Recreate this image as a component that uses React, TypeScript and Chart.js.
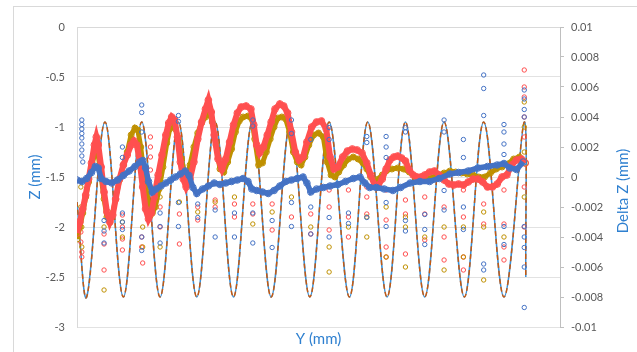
import React, { useEffect, useRef } from "react";
import { Chart, registerables } from "chart.js";
Chart.register(...registerables);

// Periodic reference profile: extremes
const sineX = [0, 10, 29, 48, 67, 86, 105, 124, 143, 162, 181.5, 201, 221, 241, 261, 282, 301, 321, 340, 360, 380, 401, 421, 442, 463, 464.6];
const sineZ = [-1.75, -2.7, -0.95, -2.7, -0.95, -2.7, -0.95, -2.7, -0.95, -2.7, -0.95, -2.7, -0.95, -2.7, -0.95, -2.7, -0.95, -2.7, -0.95, -2.7, -0.95, -2.7, -0.95, -2.7, -0.95, -2.5];

// Red measured profile (Z, left axis)
const redX = [0, 3, 6, 9, 12, 15, 18, 20, 22, 25, 28, 31, 34, 37, 40, 44, 48, 52, 56, 59, 62, 65, 68, 71, 74, 77, 80, 84, 88, 92, 95, 98, 101, 104, 107, 110, 113, 117, 121, 125, 129, 133, 136, 139, 142, 146, 150, 154, 158, 162, 166, 170, 175, 180, 183, 186, 189, 193, 197, 201, 205, 210, 214, 218, 222, 226, 230, 234, 238, 243, 248, 253, 258, 262, 266, 270, 275, 280, 285, 290, 295, 300, 304, 308, 312, 316, 320, 324, 328, 332, 336, 340, 344, 348, 352, 356, 360, 365, 370, 375, 380, 385, 390, 395, 400, 405, 410, 415, 420, 425, 430, 435, 440, 445, 450, 455, 460, 464];
const redZ = [-2.06, -1.95, -1.82, -1.68, -1.52, -1.36, -1.18, -1.1, -1.18, -1.4, -1.65, -1.85, -1.95, -1.88, -1.72, -1.52, -1.38, -1.28, -1.18, -1.14, -1.18, -1.35, -1.6, -1.82, -1.92, -1.86, -1.7, -1.48, -1.28, -1.08, -0.96, -0.9, -0.93, -1.1, -1.35, -1.52, -1.6, -1.52, -1.35, -1.12, -0.95, -0.82, -0.73, -0.85, -1.08, -1.32, -1.42, -1.32, -1.15, -0.98, -0.86, -0.8, -0.79, -0.82, -0.98, -1.18, -1.26, -1.2, -1.08, -0.95, -0.82, -0.77, -0.79, -0.86, -1.05, -1.25, -1.33, -1.3, -1.15, -1.0, -0.95, -0.94, -1.02, -1.3, -1.42, -1.4, -1.3, -1.24, -1.22, -1.23, -1.26, -1.36, -1.48, -1.58, -1.58, -1.52, -1.42, -1.33, -1.3, -1.29, -1.31, -1.34, -1.43, -1.48, -1.5, -1.5, -1.48, -1.45, -1.44, -1.48, -1.53, -1.57, -1.58, -1.57, -1.58, -1.55, -1.52, -1.52, -1.55, -1.6, -1.6, -1.57, -1.5, -1.48, -1.38, -1.33, -1.32, -1.36];

// Gold measured profile (Z, left axis)
const goldX = [0, 3, 6, 9, 12, 15, 18, 20, 22, 25, 28, 31, 34, 37, 40, 44, 48, 52, 56, 60, 63, 66, 69, 72, 75, 78, 81, 85, 89, 93, 96, 99, 102, 105, 108, 111, 114, 117, 121, 125, 129, 133, 137, 140, 144, 148, 152, 156, 160, 164, 168, 172, 177, 181, 184, 188, 192, 196, 200, 204, 208, 212, 216, 220, 224, 228, 232, 236, 240, 245, 250, 255, 259, 263, 267, 271, 276, 281, 286, 291, 296, 300, 304, 308, 312, 316, 320, 326, 332, 338, 344, 350, 356, 362, 368, 374, 380, 386, 392, 398, 404, 410, 416, 422, 428, 434, 440, 446, 452, 458, 464];
const goldZ = [-2.12, -2.0, -1.86, -1.7, -1.55, -1.4, -1.28, -1.22, -1.28, -1.5, -1.72, -1.9, -1.95, -1.86, -1.72, -1.53, -1.38, -1.25, -1.08, -1.01, -1.03, -1.2, -1.45, -1.65, -1.8, -1.86, -1.8, -1.62, -1.4, -1.16, -1.02, -0.97, -1.02, -1.12, -1.32, -1.45, -1.48, -1.38, -1.2, -1.06, -0.96, -0.9, -0.86, -0.95, -1.18, -1.42, -1.45, -1.35, -1.22, -1.05, -0.94, -0.9, -0.89, -0.92, -1.12, -1.38, -1.36, -1.25, -1.12, -1.0, -0.91, -0.9, -0.92, -1.05, -1.25, -1.35, -1.38, -1.3, -1.18, -1.08, -1.06, -1.1, -1.35, -1.48, -1.5, -1.45, -1.38, -1.32, -1.3, -1.32, -1.36, -1.42, -1.5, -1.54, -1.52, -1.48, -1.44, -1.42, -1.41, -1.42, -1.45, -1.5, -1.53, -1.52, -1.5, -1.48, -1.46, -1.44, -1.45, -1.46, -1.47, -1.48, -1.5, -1.5, -1.46, -1.42, -1.4, -1.37, -1.32, -1.3, -1.36];

// Blue difference profile (Delta Z, right axis)
const blueX = [0, 5, 10, 15, 19, 22, 25, 30, 36, 42, 48, 54, 60, 65, 68, 71, 74, 78, 82, 87, 92, 97, 102, 107, 112, 116, 120, 124, 130, 136, 142, 148, 154, 160, 166, 172, 177, 181, 186, 192, 198, 204, 210, 216, 222, 228, 234, 238, 242, 248, 255, 262, 270, 278, 286, 293, 298, 303, 310, 318, 327, 335, 345, 355, 365, 375, 386, 395, 405, 415, 425, 435, 442, 448, 455, 462];
const blueDZ = [-0.0002, -0.0003, -0.0001, 0.0003, 0.0007, 0.0006, -0.0001, -0.0003, -0.0004, -0.0002, 0.0001, 0.0004, 0.0007, 0.001, 0.0011, 0.0006, -0.0003, -0.001, -0.0008, -0.0006, -0.0004, -0.0002, 0.0, 0.0002, 0.0004, 0.0001, -0.0007, -0.0011, -0.0008, -0.0006, -0.0004, -0.0005, -0.0004, -0.0003, -0.0002, -0.0001, -0.0003, -0.0008, -0.0009, -0.001, -0.0011, -0.0009, -0.0006, -0.0003, -0.0002, -0.0001, 0.0, -0.0004, -0.001, -0.0008, -0.0007, -0.0006, -0.0005, -0.0003, -0.0001, 0.0, -0.0004, -0.0007, -0.0007, -0.0008, -0.0009, -0.0007, -0.0004, -0.0003, -0.0003, -0.0001, 0.0002, 0.0003, 0.0004, 0.0006, 0.0007, 0.0008, 0.0009, 0.0006, 0.0005, 0.001];

// Scattered stray readings
const redStray = [[4, -2.05], [4, -2.15], [5, -2.25], [5, -2.3], [28, -2.07], [28, -2.17], [28, -2.43], [47, -1.88], [47, -2.0], [47, -2.12], [47, -2.23], [67, -2.1], [67, -2.2], [68, -2.36], [76, -1.1], [76, -1.2], [76, -1.3], [76, -1.43], [86, -1.8], [86, -2.0], [106, -1.87], [106, -2.17], [125, -1.8], [125, -1.93], [143, -1.73], [143, -1.8], [163, -1.77], [163, -1.9], [182, -1.77], [182, -1.87], [202, -1.77], [202, -2.03], [222, -1.9], [242, -1.87], [242, -2.07], [261, -1.63], [261, -1.8], [261, -2.03], [281, -1.63], [281, -1.9], [281, -2.1], [300, -1.6], [300, -1.7], [300, -1.87], [320, -1.63], [320, -1.93], [320, -2.2], [320, -2.3], [340, -1.73], [340, -1.87], [340, -2.27], [360, -1.7], [360, -1.87], [360, -2.13], [380, -1.8], [380, -2.1], [380, -2.33], [400, -1.63], [400, -1.9], [400, -2.3], [400, -2.43], [421, -1.77], [421, -1.97], [442, -1.63], [442, -1.97], [442, -2.2], [442, -2.33], [463, -0.43], [463, -0.6], [463, -0.7], [463, -0.9], [463, -1.1], [463, -1.6], [463, -2.0]];
const goldStray = [[4, -1.6], [4, -1.8], [5, -2.0], [5, -2.2], [28, -2.0], [28, -2.63], [47, -1.95], [47, -2.1], [68, -2.0], [68, -2.2], [86, -1.7], [86, -2.2], [106, -1.75], [125, -1.85], [143, -1.75], [163, -1.7], [182, -1.97], [202, -1.85], [222, -1.7], [242, -2.0], [261, -2.2], [261, -2.45], [281, -2.0], [300, -1.9], [300, -2.1], [320, -1.8], [320, -2.3], [340, -1.9], [340, -2.0], [340, -2.4], [360, -2.1], [380, -2.0], [380, -2.43], [400, -2.0], [400, -2.3], [421, -1.85], [421, -2.0], [421, -2.53], [442, -2.1], [463, -0.75], [463, -1.0], [463, -1.25], [463, -1.7]];
const blueStray = [[5, 0.0038], [5, 0.0035], [5, 0.0032], [5, 0.0029], [5, 0.0026], [5, 0.0022], [5, 0.0018], [5, 0.0014], [6, 0.001], [28, -0.0029], [28, -0.0036], [28, -0.0044], [47, 0.002], [47, 0.0013], [47, -0.0024], [47, -0.003], [47, -0.0035], [67, 0.0048], [67, 0.0043], [67, 0.003], [67, -0.004], [67, -0.0049], [86, -0.0024], [86, -0.0033], [86, -0.0044], [105, 0.0041], [105, 0.0037], [105, -0.0017], [105, -0.0033], [125, -0.0018], [125, -0.0027], [143, -0.0022], [143, -0.004], [163, -0.0024], [163, -0.004], [182, 0.0038], [182, 0.0034], [182, -0.0024], [182, -0.0044], [202, -0.0029], [202, -0.0047], [222, 0.0038], [222, 0.0029], [222, -0.0017], [222, -0.0033], [242, 0.0025], [242, -0.002], [242, -0.0038], [261, 0.0033], [261, 0.0025], [261, -0.0027], [261, -0.004], [281, -0.0024], [281, -0.0031], [300, 0.0027], [300, 0.0023], [300, -0.0027], [320, 0.0027], [320, 0.002], [320, 0.0013], [320, -0.0017], [320, -0.0033], [340, 0.0033], [340, 0.003], [340, -0.0029], [340, -0.0036], [360, -0.0025], [360, -0.0035], [360, -0.0045], [380, 0.0038], [380, 0.003], [380, -0.0009], [380, -0.0022], [400, 0.0025], [400, 0.0013], [400, -0.002], [400, -0.0035], [421, 0.0068], [421, 0.0059], [421, 0.0041], [421, -0.0058], [421, -0.0062], [442, 0.0035], [442, 0.003], [442, 0.0022], [442, 0.0015], [442, -0.0033], [442, -0.0045], [463, 0.0058], [463, 0.0052], [463, 0.0045], [463, 0.004], [463, -0.0033], [463, -0.004], [463, -0.0047], [463, -0.006], [463, -0.0087]];

const xTitle = "Y (mm)";
const yTitle = "Z (mm)";
const y2Title = "Delta Z (mm)";

const RED = "#FF4F4F";
const GOLD = "#BF9000";
const BLUE = "#4472C4";
const TITLE_BLUE = "#2F80D0";

const pts = (xs: number[], ys: number[]) => xs.map((x, i) => ({ x, y: ys[i] }));
const pairs = (a: number[][]) => a.map(([x, y]) => ({ x, y }));

export default function App() {
  const ref = useRef<HTMLCanvasElement>(null);
  useEffect(() => {
    if (!ref.current) return;
    Chart.defaults.font.family = "Lato";
    const rightTitle = {
      id: "rightTitle",
      afterDraw(chart: any) {
        const { ctx, chartArea } = chart;
        ctx.save();
        ctx.translate(chartArea.right + 63, (chartArea.top + chartArea.bottom) / 2 + 14);
        ctx.rotate(-Math.PI / 2);
        ctx.font = "15px Lato";
        ctx.fillStyle = TITLE_BLUE;
        ctx.textAlign = "center";
        ctx.textBaseline = "middle";
        ctx.fillText(y2Title, 0, 0);
        ctx.restore();
      },
    };
    const marker = (color: string, r = 2.2) => ({
      pointStyle: "circle",
      pointRadius: r,
      pointBorderWidth: 1,
      pointBorderColor: color,
      pointBackgroundColor: "rgba(0,0,0,0)",
    });
    const chart = new Chart(ref.current, {
      type: "scatter",
      data: {
        datasets: [
          { data: pts(blueX, blueDZ), yAxisID: "y2", showLine: true, borderColor: BLUE, borderWidth: 5.5, tension: 0, order: 1, ...marker(BLUE, 3.3) },
          { data: pairs(blueStray), yAxisID: "y2", order: 2, ...marker(BLUE) },
          { data: pts(goldX, goldZ), yAxisID: "y", showLine: true, borderColor: GOLD, borderWidth: 5, tension: 0, order: 4, ...marker(GOLD, 3) },
          { data: pts(redX, redZ), yAxisID: "y", showLine: true, borderColor: RED, borderWidth: 6, tension: 0, order: 3, ...marker(RED, 3.4) },
          { data: pairs(goldStray), yAxisID: "y", order: 5, ...marker(GOLD) },
          { data: pairs(redStray), yAxisID: "y", order: 6, ...marker(RED) },
          { data: pts(sineX, sineZ), yAxisID: "y", showLine: true, borderColor: "#C55A11", borderWidth: 1.5, borderDash: [5, 3], tension: 0.36, pointRadius: 0, order: 7 },
          { data: pts(sineX, sineZ), yAxisID: "y", showLine: true, borderColor: "#3A8FD6", borderWidth: 1.5, tension: 0.36, pointRadius: 0, order: 8 },
        ],
      },
      options: {
        responsive: false,
        animation: false,
        devicePixelRatio: 1,
        layout: { padding: 0 },
        plugins: { legend: { display: false }, tooltip: { enabled: false } },
        scales: {
          x: {
            type: "linear",
            position: "top",
            min: 0,
            max: 500,
            ticks: { stepSize: 50, padding: -20, color: "#595959", font: { size: 11 }, maxRotation: 0, autoSkip: false },
            grid: { display: false, drawTicks: false, tickLength: 0 },
            border: { display: true, color: "#D9D9D9" },
            afterFit: (s: any) => { s.height = 27; },
          },
          x2: {
            type: "linear",
            position: "bottom",
            min: 0,
            max: 500,
            ticks: { display: false },
            grid: { display: false, drawTicks: false },
            border: { display: false },
            title: { display: true, text: xTitle, color: TITLE_BLUE, font: { size: 15 }, padding: { top: 0, bottom: 4 } },
            afterFit: (s: any) => { s.height = 25; },
          },
          y: {
            type: "linear",
            position: "left",
            min: -3,
            max: 0,
            ticks: { stepSize: 0.5, padding: 12, color: "#595959", font: { size: 11 }, callback: (v: any) => String(+Number(v).toFixed(1)) },
            grid: { color: "#E2E2E2", drawTicks: false },
            border: { display: true, color: "#D9D9D9" },
            title: { display: true, text: yTitle, color: TITLE_BLUE, font: { size: 15 }, padding: { top: 26, bottom: 0 } },
            afterFit: (s: any) => { s.width = 77; },
          },
          y2: {
            type: "linear",
            position: "right",
            min: -0.01,
            max: 0.01,
            ticks: { stepSize: 0.002, padding: 7, color: "#595959", font: { size: 11 }, callback: (v: any) => String(+Number(v).toFixed(3)) },
            grid: { drawOnChartArea: false, drawTicks: true, tickLength: 4, color: "#BFBFBF" },
            border: { display: true, color: "#BFBFBF" },
            afterFit: (s: any) => { s.width = 77; },
          },
        },
      },
      plugins: [rightTitle],
    } as any);
    return () => chart.destroy();
  }, []);
  return (
    <div style={{ position: "fixed", left: 0, top: 0, width: 637, height: 352, overflow: "hidden", background: "#fff" }}>
      <div style={{ position: "absolute", left: 13, top: 6, width: 680, height: 400, border: "1px solid #D9D9D9" }} />
      <canvas ref={ref} width={637} height={352} style={{ position: "absolute", left: 0, top: 0 }} />
    </div>
  );
}
